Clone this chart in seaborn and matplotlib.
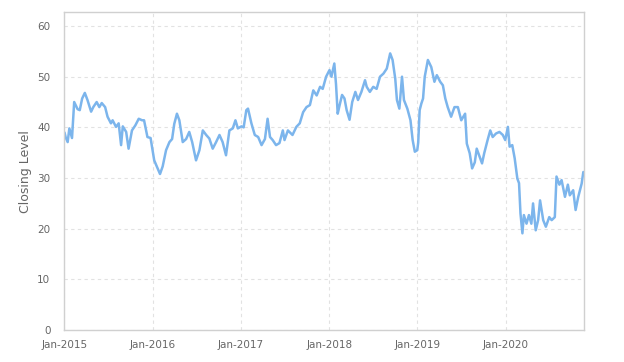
import pandas as pd
import matplotlib
matplotlib.use("Agg")
import matplotlib.pyplot as plt
import matplotlib.dates as mdates
import seaborn as sns

# ===================== Data =====================
dates = [
    "2015-01-02", "2015-01-07", "2015-01-15", "2015-01-22", "2015-02-02", "2015-02-11",
    "2015-02-25", "2015-03-06", "2015-03-16", "2015-03-27", "2015-04-07", "2015-04-22",
    "2015-05-01", "2015-05-15", "2015-05-26", "2015-06-05", "2015-06-19", "2015-06-29",
    "2015-07-13", "2015-07-20", "2015-08-03", "2015-08-14", "2015-08-24", "2015-08-31",
    "2015-09-14", "2015-09-24", "2015-10-08", "2015-10-22", "2015-11-05", "2015-11-19",
    "2015-11-27", "2015-12-11", "2015-12-24",
    "2016-01-08", "2016-01-22", "2016-02-01", "2016-02-12", "2016-02-26", "2016-03-11",
    "2016-03-22", "2016-03-31", "2016-04-11", "2016-04-21", "2016-05-05", "2016-05-19",
    "2016-06-01", "2016-06-13", "2016-06-29", "2016-07-13", "2016-07-27", "2016-08-10",
    "2016-08-23", "2016-09-06", "2016-09-20", "2016-10-04", "2016-10-17", "2016-10-31",
    "2016-11-14", "2016-11-28", "2016-12-09", "2016-12-19",
    "2017-01-03", "2017-01-12", "2017-01-23", "2017-01-30", "2017-02-13", "2017-02-27",
    "2017-03-13", "2017-03-27", "2017-04-10", "2017-04-21", "2017-05-01", "2017-05-12",
    "2017-05-26", "2017-06-09", "2017-06-23", "2017-06-30", "2017-07-14", "2017-08-02",
    "2017-08-18", "2017-09-01", "2017-09-15", "2017-09-29", "2017-10-13", "2017-10-27",
    "2017-11-10", "2017-11-24", "2017-12-05", "2017-12-19", "2017-12-29",
    "2018-01-02", "2018-01-10", "2018-01-22", "2018-01-29", "2018-02-05", "2018-02-13",
    "2018-02-23", "2018-03-05", "2018-03-14", "2018-03-26", "2018-04-06", "2018-04-19",
    "2018-04-30", "2018-05-14", "2018-05-29", "2018-06-05", "2018-06-18", "2018-07-02",
    "2018-07-16", "2018-07-30", "2018-08-13", "2018-08-27", "2018-09-10", "2018-09-20",
    "2018-10-01", "2018-10-08", "2018-10-18", "2018-10-29", "2018-11-06", "2018-11-20",
    "2018-12-03", "2018-12-12", "2018-12-21", "2018-12-31",
    "2019-01-04", "2019-01-10", "2019-01-17", "2019-01-24", "2019-01-31", "2019-02-13",
    "2019-02-27", "2019-03-12", "2019-03-22", "2019-04-05", "2019-04-16", "2019-04-26",
    "2019-05-06", "2019-05-20", "2019-06-03", "2019-06-17", "2019-07-01", "2019-07-17",
    "2019-07-24", "2019-08-05", "2019-08-15", "2019-08-26", "2019-09-03", "2019-09-13",
    "2019-09-25", "2019-10-04", "2019-10-18", "2019-10-29", "2019-11-08", "2019-11-22",
    "2019-12-06", "2019-12-20", "2019-12-30",
    "2020-01-10", "2020-01-17", "2020-01-28", "2020-02-07", "2020-02-18", "2020-02-25",
    "2020-03-02", "2020-03-10", "2020-03-16", "2020-03-27", "2020-04-06", "2020-04-16",
    "2020-04-23", "2020-05-04", "2020-05-14", "2020-05-22", "2020-06-04", "2020-06-15",
    "2020-06-29", "2020-07-09", "2020-07-22", "2020-07-29", "2020-08-10", "2020-08-19",
    "2020-09-02", "2020-09-14", "2020-09-22", "2020-10-06", "2020-10-16", "2020-10-27",
    "2020-11-10", "2020-11-17", "2020-11-20",
]
closing = [
    39.0, 38.0, 37.1, 39.8, 37.9, 45.0,
    43.6, 43.4, 45.7, 46.8, 45.4, 43.1,
    44.0, 45.0, 44.0, 44.8, 44.0, 42.1,
    40.8, 41.4, 40.1, 40.8, 36.5, 40.2,
    39.1, 35.8, 39.4, 40.4, 41.7, 41.4,
    41.4, 38.1, 37.9,
    33.5, 31.9, 30.8, 32.3, 35.5, 37.1,
    37.7, 40.7, 42.7, 41.4, 37.1, 37.7,
    39.1, 37.1, 33.5, 35.5, 39.4, 38.5,
    37.8, 35.8, 37.1, 38.5, 37.1, 34.5,
    39.4, 39.8, 41.4, 39.8,
    40.2, 40.0, 43.4, 43.7, 40.8, 38.5,
    38.1, 36.5, 37.7, 41.7, 38.1, 37.5,
    36.5, 36.9, 39.4, 37.5, 39.4, 38.5,
    40.1, 40.8, 43.0, 44.0, 44.4, 47.3,
    46.3, 48.0, 47.6, 50.0, 50.9,
    51.3, 50.0, 52.6, 48.5, 42.7, 44.4,
    46.4, 45.7, 43.4, 41.5, 45.0, 47.0,
    45.4, 47.0, 49.3, 48.0, 47.0, 48.0,
    47.6, 50.0, 50.6, 51.6, 54.6, 53.3,
    49.6, 45.4, 43.7, 50.0, 45.4, 43.7,
    41.4, 37.5, 35.2, 35.5,
    37.0, 43.4, 44.7, 45.7, 50.0, 53.3,
    51.9, 49.0, 50.3, 49.0, 48.3, 45.7,
    44.0, 42.1, 44.0, 44.0, 41.4, 42.7,
    36.8, 34.9, 31.9, 33.1, 35.8, 34.5,
    32.9, 34.9, 37.5, 39.4, 38.1, 38.8,
    39.1, 38.5, 37.5,
    40.1, 36.2, 36.5, 33.9, 29.9, 29.0,
    23.0, 19.1, 22.7, 21.0, 22.7, 21.0,
    25.0, 19.7, 21.7, 25.6, 21.7, 20.4,
    22.3, 21.7, 22.3, 30.3, 28.7, 29.6,
    26.3, 28.7, 26.6, 27.6, 23.7, 26.3,
    28.9, 31.2, 31.0,
]
y_ticks = [0, 10, 20, 30, 40, 50, 60]

df = pd.DataFrame({"Date": pd.to_datetime(dates), "Close": closing})

# ===================== Plot =====================
sns.set_theme(style="white")
plt.rcParams['font.family'] = ['DejaVu Sans']

fig = plt.figure(figsize=(6.24, 3.62), dpi=100)
ax = fig.add_axes([0.103, 0.088, 0.833, 0.878])

sns.lineplot(data=df, x="Date", y="Close", ax=ax, color="#7cb5ec", linewidth=1.8)

ax.set_xlim(pd.Timestamp("2015-01-01"), df["Date"].iloc[-1])
ax.set_ylim(0, 62.7)
ax.set_yticks(y_ticks)
ax.xaxis.set_major_locator(mdates.YearLocator())
ax.xaxis.set_major_formatter(mdates.DateFormatter("%b-%Y"))

ax.grid(True, linestyle=(0, (3, 3)), color="#e2e2e2", linewidth=0.8)
for s in ax.spines.values():
    s.set_color("#d0d0d0")
    s.set_linewidth(1.0)

ax.tick_params(axis="x", length=4, color="#d0d0d0", pad=3, labelsize=7.5, labelcolor="#666666")
ax.tick_params(axis="y", length=0, pad=10, labelsize=7.5, labelcolor="#666666")
ax.set_xlabel("")
ax.set_ylabel("Closing Level", fontsize=9, color="#666666", labelpad=4)

fig.savefig("out.png", dpi=100)
